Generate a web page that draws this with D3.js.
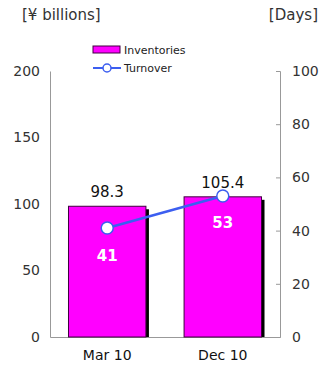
<!DOCTYPE html>
<html>
<head>
<meta charset="utf-8">
<script src="https://cdn.jsdelivr.net/npm/d3@7"></script>
<style>
  body { margin: 0; background: #fff; }
  text { font-family: Tahoma, "DejaVu Sans", sans-serif; }
</style>
</head>
<body>
<div id="chart"></div>
<script>
  var categories = ['Mar 10', 'Dec 10'];
  var inventories = [98.3, 105.4];
  var turnover = [41, 53];
  var leftTicks = [0, 50, 100, 150, 200];
  var rightTicks = [0, 20, 40, 60, 80, 100];

  var width = 326, height = 371;
  var margin = {top: 71, right: 46, bottom: 34, left: 50};

  var svg = d3.select('#chart')
    .append('svg')
    .attr('width', width)
    .attr('height', height);

  var w = width - margin.left - margin.right,
    h = height - margin.top - margin.bottom;

  var g = svg.append('g')
    .attr('transform', 'translate(' + margin.left + ',' + margin.top + ')');

  var xScale = d3.scaleBand()
    .domain(categories)
    .range([0, w])
    .paddingInner(0.33)
    .paddingOuter(0.16);
  var yLeft = d3.scaleLinear().domain([0, 200]).range([h, 0]);
  var yRight = d3.scaleLinear().domain([0, 100]).range([h, 0]);

  // axes
  var left = g.append('g')
    .call(d3.axisLeft(yLeft).tickValues(leftTicks).tickSize(0).tickPadding(10));
  var right = g.append('g')
    .attr('transform', 'translate(' + w + ',0)')
    .call(d3.axisRight(yRight).tickValues(rightTicks).tickSize(-4).tickPadding(12));
  var bottom = g.append('g')
    .attr('transform', 'translate(0,' + h + ')')
    .call(d3.axisBottom(xScale).tickSize(0).tickPadding(13));

  [left, right, bottom].forEach(function(a) {
    a.select('.domain').attr('stroke', '#999');
    a.selectAll('.tick line').attr('stroke', '#999');
    a.selectAll('text').attr('font-size', 14).attr('fill', '#333');
  });
  bottom.selectAll('text').attr('fill', '#111').attr('font-size', 14);

  // bars with shadow
  g.selectAll('.shadow')
    .data(inventories)
    .enter()
    .append('rect')
    .attr('x', function(d, i) { return xScale(categories[i]) + 3; })
    .attr('y', function(d) { return yLeft(d) + 3; })
    .attr('width', xScale.bandwidth())
    .attr('height', function(d) { return h - yLeft(d) - 3; })
    .attr('fill', '#000');

  g.selectAll('.bar')
    .data(inventories)
    .enter()
    .append('rect')
    .attr('x', function(d, i) { return xScale(categories[i]); })
    .attr('y', function(d) { return yLeft(d); })
    .attr('width', xScale.bandwidth())
    .attr('height', function(d) { return h - yLeft(d); })
    .attr('fill', '#ff00ff')
    .attr('stroke', '#400040')
    .attr('stroke-width', 1);

  g.selectAll('.barLabel')
    .data(inventories)
    .enter()
    .append('text')
    .attr('x', function(d, i) { return xScale(categories[i]) + xScale.bandwidth() / 2; })
    .attr('y', function(d) { return yLeft(d) - 9; })
    .attr('text-anchor', 'middle')
    .attr('font-size', 15)
    .attr('fill', '#111')
    .text(function(d) { return d.toFixed(1); });

  // turnover line
  var line = d3.line()
    .x(function(d, i) { return xScale(categories[i]) + xScale.bandwidth() / 2; })
    .y(function(d) { return yRight(d); });

  g.append('path')
    .datum(turnover)
    .attr('d', line)
    .attr('fill', 'none')
    .attr('stroke', '#3c5ef0')
    .attr('stroke-width', 2.5);

  g.selectAll('.dot')
    .data(turnover)
    .enter()
    .append('circle')
    .attr('cx', function(d, i) { return xScale(categories[i]) + xScale.bandwidth() / 2; })
    .attr('cy', function(d) { return yRight(d); })
    .attr('r', 6)
    .attr('fill', '#fff')
    .attr('stroke', '#3c5ef0')
    .attr('stroke-width', 1.5);

  g.selectAll('.dotLabel')
    .data(turnover)
    .enter()
    .append('text')
    .attr('x', function(d, i) { return xScale(categories[i]) + xScale.bandwidth() / 2; })
    .attr('y', function(d, i) { return yRight(d) + (i === 0 ? 33 : 32); })
    .attr('text-anchor', 'middle')
    .attr('font-size', 15)
    .attr('font-weight', 'bold')
    .attr('fill', '#fff')
    .text(function(d) { return d; });

  // axis titles
  svg.append('text').attr('x', 22).attr('y', 20)
    .attr('font-size', 15).attr('fill', '#333').text('[¥ billions]');
  svg.append('text').attr('x', 318).attr('y', 20).attr('text-anchor', 'end')
    .attr('font-size', 15).attr('fill', '#333').text('[Days]');

  // legend
  var legend = svg.append('g').attr('transform', 'translate(93,44)');
  legend.append('rect').attr('x', 0).attr('y', 2).attr('width', 27).attr('height', 7)
    .attr('fill', '#ff00ff').attr('stroke', '#400040');
  legend.append('text').attr('x', 31).attr('y', 10).attr('font-size', 11).attr('fill', '#222').text('Inventories');
  legend.append('line').attr('x1', 0).attr('x2', 28).attr('y1', 24).attr('y2', 24)
    .attr('stroke', '#3c5ef0').attr('stroke-width', 2);
  legend.append('circle').attr('cx', 14).attr('cy', 24).attr('r', 4)
    .attr('fill', '#fff').attr('stroke', '#3c5ef0').attr('stroke-width', 1.5);
  legend.append('text').attr('x', 31).attr('y', 28).attr('font-size', 11).attr('fill', '#222').text('Turnover');
</script>
</body>
</html>
